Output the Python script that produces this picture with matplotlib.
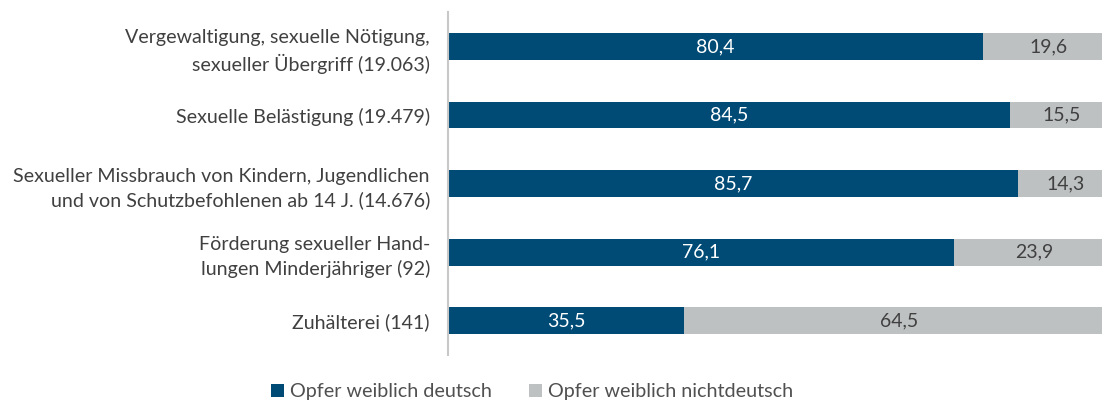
import matplotlib.pyplot as plt

categories = [
    "Vergewaltigung, sexuelle Nötigung,\nsexueller Übergriff (19.063)",
    "Sexuelle Belästigung (19.479)",
    "Sexueller Missbrauch von Kindern, Jugendlichen\nund von Schutzbefohlenen ab 14 J. (14.676)",
    "Förderung sexueller Hand-\nlungen Minderjähriger (92)",
    "Zuhälterei (141)",
]
deutsch = [80.4, 84.5, 85.7, 76.1, 35.5]
nichtdeutsch = [19.6, 15.5, 14.3, 23.9, 64.5]
series_names = ["Opfer weiblich deutsch", "Opfer weiblich nichtdeutsch"]

blue = "#004B76"
gray = "#BEC1C2"
text_col = "#404040"

plt.rcParams['font.family'] = ['Lato', 'DejaVu Sans']

fig = plt.figure(figsize=(11.02, 4.03), dpi=100)
# right edge runs past the figure, as in the original (last bar is cut off)
ax = fig.add_axes([0.4065, 0.119, 0.604, 0.851])

y = list(range(len(categories)))
h = 0.39
b1 = ax.barh(y, deutsch, height=h, color=blue, label=series_names[0])
b2 = ax.barh(y, nichtdeutsch, left=deutsch, height=h, color=gray, label=series_names[1])

def fmt(v):
    return f"{v:.1f}".replace(".", ",")

for i in y:
    ax.text(deutsch[i] / 2, i, fmt(deutsch[i]), ha='center', va='center',
            color='white', fontsize=14)
    ax.text(deutsch[i] + nichtdeutsch[i] / 2, i, fmt(nichtdeutsch[i]), ha='center',
            va='center', color=text_col, fontsize=14)

ax.set_xlim(0, 100)
ax.set_ylim(4.5, -0.5)
ax.set_yticks(y)
ax.set_yticklabels(categories, fontsize=14.1, color=text_col, linespacing=1.45)
ax.tick_params(axis='y', length=0, pad=13)
ax.set_xticks([])
for s in ['top', 'right', 'bottom']:
    ax.spines[s].set_visible(False)
ax.spines['left'].set_color('#C8C8C8')
ax.spines['left'].set_linewidth(1.5)

fig.legend(handles=[b1, b2], loc='center', bbox_to_anchor=(0.483, 0.028), ncol=2,
           frameon=False, fontsize=14.2, labelcolor='#505050', handlelength=0.65,
           handleheight=0.65, handletextpad=0.3, columnspacing=1.9)

plt.savefig("out.png", dpi=100)
